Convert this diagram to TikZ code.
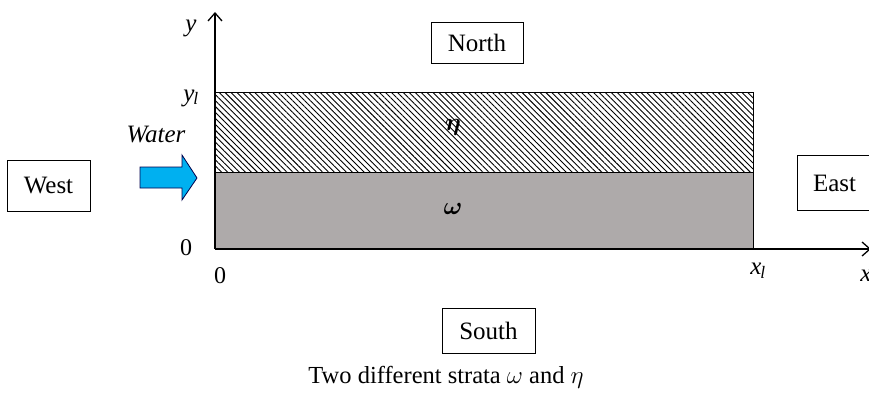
\documentclass[tikz,border=0pt]{standalone}
\usepackage{amsmath}
\usepackage{bm}
\usepackage{fontspec}
\setmainfont{Liberation Serif}
\usetikzlibrary{patterns.meta,arrows.meta}
\definecolor{stratgray}{RGB}{174,170,170}
\definecolor{watercyan}{RGB}{0,176,240}
\tikzset{
  labelbox/.style={draw=black, line width=0.9pt, fill=white, inner sep=0pt, font=\fontsize{25}{27}\selectfont},
  axis/.style={line width=1.3pt, -{Straight Barb[length=8pt,width=14pt,line width=1.3pt]}},
  axlabel/.style={font=\fontsize{25}{27}\selectfont\itshape, inner sep=0pt},
  numlabel/.style={font=\fontsize{24}{26}\selectfont, inner sep=0pt},
}
\begin{document}
\begin{tikzpicture}[x=1pt,y=-1pt]
\useasboundingbox (0,0) rectangle (869,396);
% strata
\fill[stratgray] (215,172) rectangle (753,249);
\fill[pattern={Lines[angle=135, distance=4.2pt, line width=0.9pt]}] (215,92) rectangle (753,172);
\draw[line width=1pt] (215,92) rectangle (753,249);
\draw[line width=1pt] (215,172) -- (753,172);
% axes
\coordinate (o) at (215,249);
\coordinate (ytop) at (215,12);
\coordinate (xend) at (871,249);
\draw[axis] (o) -- (ytop);
\draw[axis] (o) -- (xend);
% labels
\node[axlabel] (ylab) at (191,28) {y};
\node[axlabel] (yl) at (191,98) {y\textsubscript{\kern-1pt\textit{l}}};
\node[numlabel] (zy) at (186,248) {0};
\node[numlabel] (zx) at (220,276) {0};
\node[axlabel] (xl) at (758,271) {x\textsubscript{\kern-1pt\textit{l}}};
\node[axlabel] (xlab) at (866,276) {x};
\node[font=\fontsize{26}{28}\selectfont, inner sep=0pt] (eta) at (453,127) {$\bm{\eta}$};
\node[font=\fontsize{26}{28}\selectfont, inner sep=0pt] (omega) at (453,209) {$\bm{\omega}$};
\node[axlabel] (water) at (156,135) {Water};
% water arrow
\draw[fill=watercyan, draw=black!70!blue, line width=0.8pt]
  (140,167) -- (182,167) -- (182,155) -- (197,178) -- (182,200) -- (182,188) -- (140,188) -- cycle;
% boxes
\node[labelbox, minimum width=92pt, minimum height=41pt] (north) at (477,42.5) {North};
\node[labelbox, minimum width=83pt, minimum height=51pt] (west) at (48.5,185.5) {West};
\node[labelbox, minimum width=93pt, minimum height=45pt] (south) at (488.5,331) {South};
\node[labelbox, minimum width=80pt, minimum height=55pt, text width=80pt, align=left] (east) at (837,183) {\hspace{16pt}East};
% caption
\node[font=\fontsize{24.5}{26}\selectfont, inner sep=0pt] (cap) at (446,377) {Two different strata $\omega$ and $\eta$};
\end{tikzpicture}
\end{document}
